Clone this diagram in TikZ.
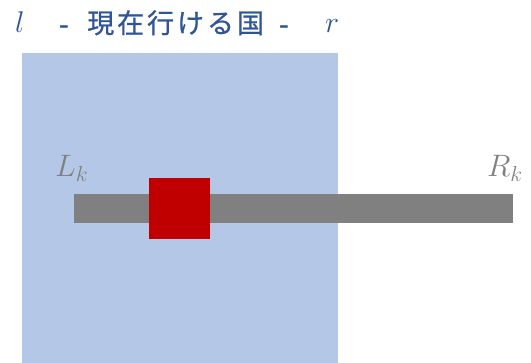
\documentclass[tikz,border=0pt]{standalone}
\usepackage{fix-cm}
\usepackage{fontspec}
\newfontfamily\cjk[LetterSpace=11,FakeBold=0.8]{Noto Sans CJK JP}
\newfontfamily\cjkplain[FakeBold=1.5]{Noto Sans CJK JP}
\definecolor{boxblue}{HTML}{B4C7E7}
\definecolor{bargray}{HTML}{808080}
\definecolor{darkred}{HTML}{C00000}
\definecolor{titleblue}{HTML}{2F5597}
\begin{document}
\begin{tikzpicture}[x=1pt,y=-1pt,
  lbl/.style={text=bargray,font=\fontsize{31}{33}\selectfont,inner sep=0pt,anchor=base west},
  ttl/.style={text=titleblue,inner sep=0pt,anchor=base west},
  mth/.style={ttl,font=\fontsize{30}{32}\selectfont},
  jp/.style={ttl,font=\cjk\fontsize{27}{30}\selectfont},
  dsh/.style={ttl,font=\cjkplain\fontsize{27}{30}\selectfont}]
\useasboundingbox (0,0) rectangle (531,363);
\fill[boxblue] (22,53) rectangle (338,363);
\node[fill=bargray,minimum width=439pt,minimum height=29pt,inner sep=0pt,anchor=north west] (bar) at (74,194) {};
\node[fill=darkred,minimum width=61pt,minimum height=61pt,inner sep=0pt,anchor=north west] (pos) at (149,178) {};
\node[lbl] (lk) at (55,177) {$L_k$};
\node[lbl] (rk) at (487,177) {$R_k$};
\node[mth] (l) at (15,33) {$l$};
\node[dsh] (d1) at (59,34) {-};
\node[jp] (t) at (87,33) {現在行ける国};
\node[dsh] (d2) at (279,34) {-};
\node[mth] (r) at (325,33) {$r$};
\end{tikzpicture}
\end{document}
